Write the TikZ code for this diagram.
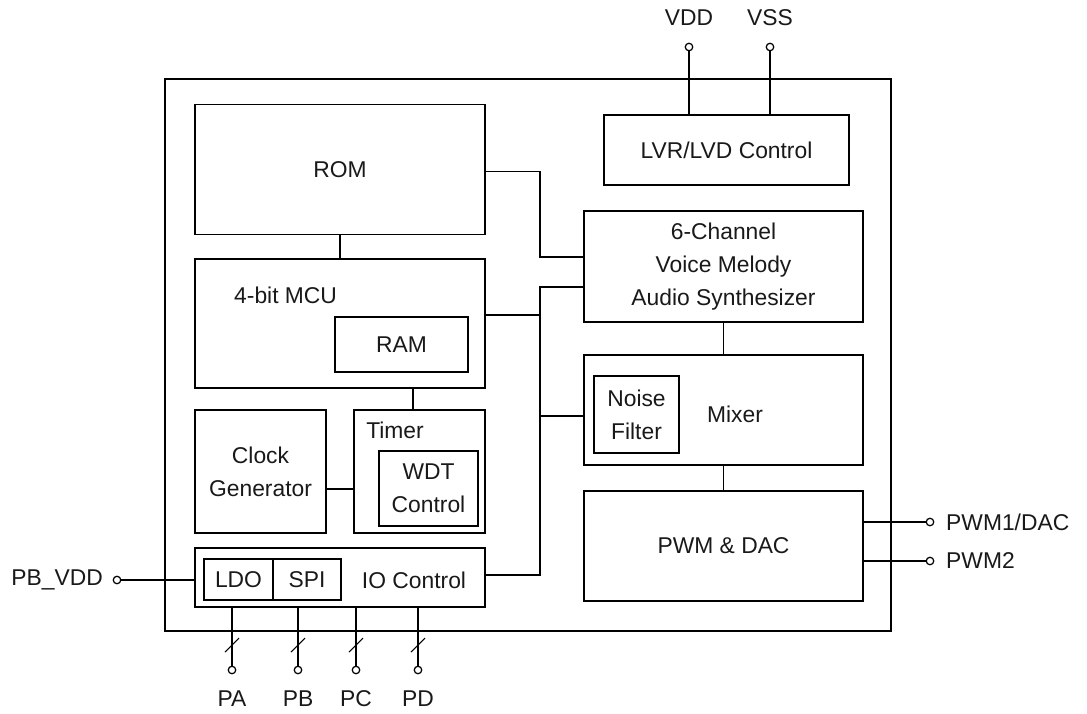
\documentclass[tikz,border=0pt]{standalone}
\usepackage{fontspec}
\setmainfont{Liberation Sans}
\usepackage{tikz}
\usetikzlibrary{positioning}

\begin{document}
\begin{tikzpicture}[
    x=0.02cm, y=-0.02cm,
    every node/.style={font=\fontsize{13}{18.7}\selectfont, text=black!90},
    block/.style={
        rectangle, draw=black, line width=0.9pt,
        inner sep=0pt, align=center
    },
    pin/.style={circle, draw=black, fill=white, line width=0.7pt,
        inner sep=0pt, minimum size=0.15cm},
    wire/.style={line width=0.9pt}
]
\useasboundingbox (0,0) rectangle (1087,713);

% 1. Chip outline
\node[block, minimum width=14.52cm, minimum height=11.04cm] (chip) at (528,355) {};

% 2. Left column (ROM, MCU, clock, timer, IO)
\node[block, minimum width=5.8cm, minimum height=2.6cm] (rom) at (340,169.5) {ROM};
\node[block, minimum width=5.8cm, minimum height=2.58cm] (mcu) at (340,323.5) {};
\node[anchor=west] (mcutxt) at (228,295) {4-bit MCU};
\node[block, minimum width=2.66cm, minimum height=1.1cm] (ram) at (401.5,344.5) {RAM};
\node[block, minimum width=2.62cm, minimum height=2.46cm] (clk) at (260.5,471.5) {Clock\\Generator};
\node[block, minimum width=2.62cm, minimum height=2.46cm] (timer) at (419.5,471.5) {};
\node (timertxt) at (395,430) {Timer};
\node[block, minimum width=1.98cm, minimum height=1.5cm] (wdt) at (428.5,488.5) {WDT\\Control};
\node[block, minimum width=5.8cm, minimum height=1.18cm] (io) at (340,577.5) {};
\node[block, minimum width=1.38cm, minimum height=0.82cm] (ldo) at (238.5,579.5) {LDO};
\node[block, minimum width=1.36cm, minimum height=0.82cm] (spi) at (307,579.5) {SPI};
\node (iotxt) at (414,580) {IO Control};

% 3. Right column (power, synth, mixer, output)
\node[block, minimum width=4.9cm, minimum height=1.4cm] (lvr) at (726.5,150) {LVR/LVD Control};
\node[block, minimum width=5.58cm, minimum height=2.22cm] (synth) at (723.5,266.5) {6-Channel\\Voice Melody\\Audio Synthesizer};
\node[block, minimum width=5.58cm, minimum height=2.2cm] (mixer) at (723.5,410) {};
\node[block, minimum width=1.7cm, minimum height=1.54cm] (noise) at (636.5,414.5) {Noise\\Filter};
\node (mixtxt) at (735,414) {Mixer};
\node[block, minimum width=5.58cm, minimum height=2.2cm] (pwm) at (723.5,546) {PWM \& DAC};

% 4. Internal connections
\draw[wire] (rom.south) -- (mcu.north);
\draw[wire] (timer.north) ++(-6.5,0) -- ++(0,-22);
\draw[wire] ([yshift=-0.35cm]clk.east) -- ([yshift=-0.35cm]timer.west);
\draw[wire] (synth.south) -- (mixer.north);
\draw[wire] (mixer.south) -- (pwm.north);

% bus from ROM and MCU to the audio side
\coordinate (romtap) at (540,257);
\coordinate (bustop) at (540,287);
\coordinate (mcutap) at (540,315);
\coordinate (mixtap) at (540,416);
\coordinate (iotap) at (540,575);
\draw[wire] ([yshift=-0.04cm]rom.east) -| (romtap) -- (romtap -| synth.west);
\draw[wire] (bustop -| synth.west) -- (bustop) -- (iotap) -- (iotap -| io.east);
\draw[wire] (mcutap) -- (mcutap -| mcu.east);
\draw[wire] (mixtap) -- (mixtap -| mixer.west);

% 5. Pins
\node[pin] (vdd) at (689,47) {};
\node[pin] (vss) at (770,47) {};
\node (vddtxt) at (689,18) {VDD};
\node (vsstxt) at (770,18) {VSS};
\draw[wire] (vdd) -- (vdd |- lvr.north);
\draw[wire] (vss) -- (vss |- lvr.north);

\node[pin] (pwm1) at (930,522) {};
\node[pin] (pwm2) at (930,561) {};
\node[anchor=west] (pwm1txt) at (940,522) {PWM1/DAC};
\node[anchor=west] (pwm2txt) at (940,561) {PWM2};
\draw[wire] (pwm1) -- (pwm1 -| pwm.east);
\draw[wire] (pwm2) -- (pwm2 -| pwm.east);

\node[pin] (pbvdd) at (117,580) {};
\node[anchor=east] (pbvddtxt) at (109,580) {PB\_VDD};
\draw[wire] (pbvdd) -- (pbvdd -| io.west);

\foreach \n/\x in {PA/232, PB/298, PC/356, PD/418} {
    \node[pin] (p\n) at (\x,670) {};
    \node (t\n) at (\x,699) {\n};
    \draw[wire] (p\n) -- (p\n |- io.south);
    \draw[line width=0.6pt] (p\n) ++(-7,-18) -- ++(14,-14);
}

\end{tikzpicture}
\end{document}
